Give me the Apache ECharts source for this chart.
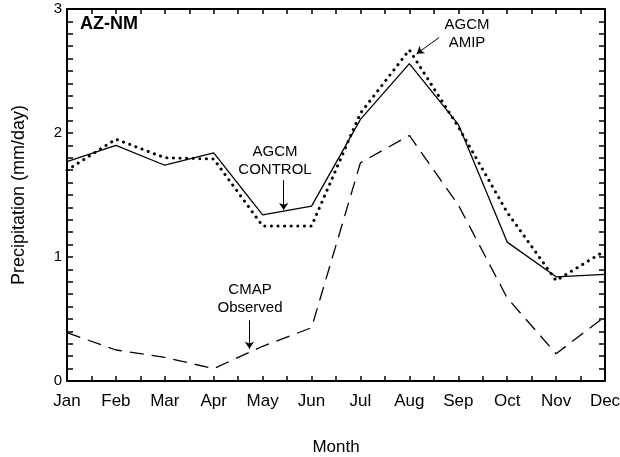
<!DOCTYPE html>
<html><head><meta charset="utf-8">
<script src="https://cdn.jsdelivr.net/npm/echarts@6/dist/echarts.min.js"></script>
<style>html,body{margin:0;padding:0;background:#fff}#c{width:620px;height:457px}</style>
</head><body><div id="c"></div>
<script>
var months = ['Jan','Feb','Mar','Apr','May','Jun','Jul','Aug','Sep','Oct','Nov','Dec'];
var control = [1.77,1.90,1.74,1.84,1.34,1.41,2.11,2.56,2.07,1.12,0.84,0.86];
var amip    = [1.70,1.95,1.80,1.79,1.25,1.25,2.16,2.67,2.05,1.36,0.81,1.05];
var cmap    = [0.39,0.25,0.19,0.10,0.28,0.43,1.76,1.98,1.42,0.67,0.22,0.52];
var yTicks = ['0','1','2','3'];

function pts(arr){ return arr.map(function(v,i){ return [i, v]; }); }
var font = '"Liberation Sans", Arial, Helvetica, sans-serif';
function arrow(a, b){ return [{coord:a},{coord:b}]; }
var arrowStyle = {color:'#000', width:1, type:'solid'};
function isInt(v){ return Math.abs(v - Math.round(v)) < 1e-6; }

function xAx(pos, extra){
  return Object.assign({type:'value', min:0, max:11, interval:0.5, position:pos,
    axisLine:{show:true, onZero:false, lineStyle:{color:'#000', width:2}},
    axisTick:{show:true, inside:true, length:5, lineStyle:{color:'#000', width:1.5}},
    axisLabel:{show:false}, splitLine:{show:false}}, extra || {});
}
function yAx(pos, extra){
  return Object.assign({type:'value', min:0, max:3, interval:0.1, position:pos,
    axisLine:{show:true, onZero:false, lineStyle:{color:'#000', width:2}},
    axisTick:{show:true, inside:true, length:6, lineStyle:{color:'#000', width:1.5}},
    axisLabel:{show:false}, splitLine:{show:false}}, extra || {});
}

var option = {
  animation:false,
  backgroundColor:'#fff',
  grid:{left:67, right:15, top:9, bottom:76, outerBoundsMode:'none'},
  xAxis:[
    xAx('bottom', {name:'Month', nameLocation:'middle', nameGap:58,
      nameTextStyle:{fontFamily:font, fontSize:17, color:'#000'},
      axisLabel:{show:true, margin:12, fontFamily:font, fontSize:17, color:'#000',
        formatter:function(v){ return isInt(v) ? months[Math.round(v)] : ''; }}}),
    xAx('top')
  ],
  yAxis:[
    yAx('left', {name:'Precipitation (mm/day)', nameLocation:'middle', nameGap:39,
      nameTextStyle:{fontFamily:font, fontSize:18, color:'#000'},
      axisLabel:{show:true, margin:5, fontFamily:font, fontSize:15, color:'#000',
        formatter:function(v){ return isInt(v) ? yTicks[Math.round(v)] : ''; }}}),
    yAx('right')
  ],
  series:[
    {name:'AGCM CONTROL', type:'line', data:pts(control), symbol:'none',
      lineStyle:{color:'#000', width:1.3, type:'solid'},
      markLine:{silent:true, symbol:['none','arrow'], symbolSize:7, label:{show:false}, lineStyle:arrowStyle,
        data:[arrow([4.43,1.62],[4.43,1.38])]}},
    {name:'AGCM AMIP', type:'line', data:pts(amip), symbol:'none',
      lineStyle:{color:'#000', width:3, type:[0.1,6.5], cap:'round'},
      markLine:{silent:true, symbol:['none','arrow'], symbolSize:7, label:{show:false}, lineStyle:arrowStyle,
        data:[arrow([7.61,2.77],[7.15,2.64])]}},
    {name:'CMAP Observed', type:'line', data:pts(cmap), symbol:'none',
      lineStyle:{color:'#000', width:1.3, type:[14,8]},
      markLine:{silent:true, symbol:['none','arrow'], symbolSize:7, label:{show:false}, lineStyle:arrowStyle,
        data:[arrow([3.73,0.49],[3.73,0.26])]}}
  ],
  graphic:[
    {type:'text', left:80, top:15, style:{text:'AZ-NM', font:'bold 18px '+font, fill:'#000'}},
    {type:'text', x:275, y:143, style:{text:'AGCM\nCONTROL', font:'15px '+font, fill:'#000', textAlign:'center', lineHeight:18}},
    {type:'text', x:467, y:16, style:{text:'AGCM\nAMIP', font:'15px '+font, fill:'#000', textAlign:'center', lineHeight:18}},
    {type:'text', x:250, y:281, style:{text:'CMAP\nObserved', font:'15px '+font, fill:'#000', textAlign:'center', lineHeight:18}}
  ]
};
echarts.init(document.getElementById('c')).setOption(option);
</script></body></html>
